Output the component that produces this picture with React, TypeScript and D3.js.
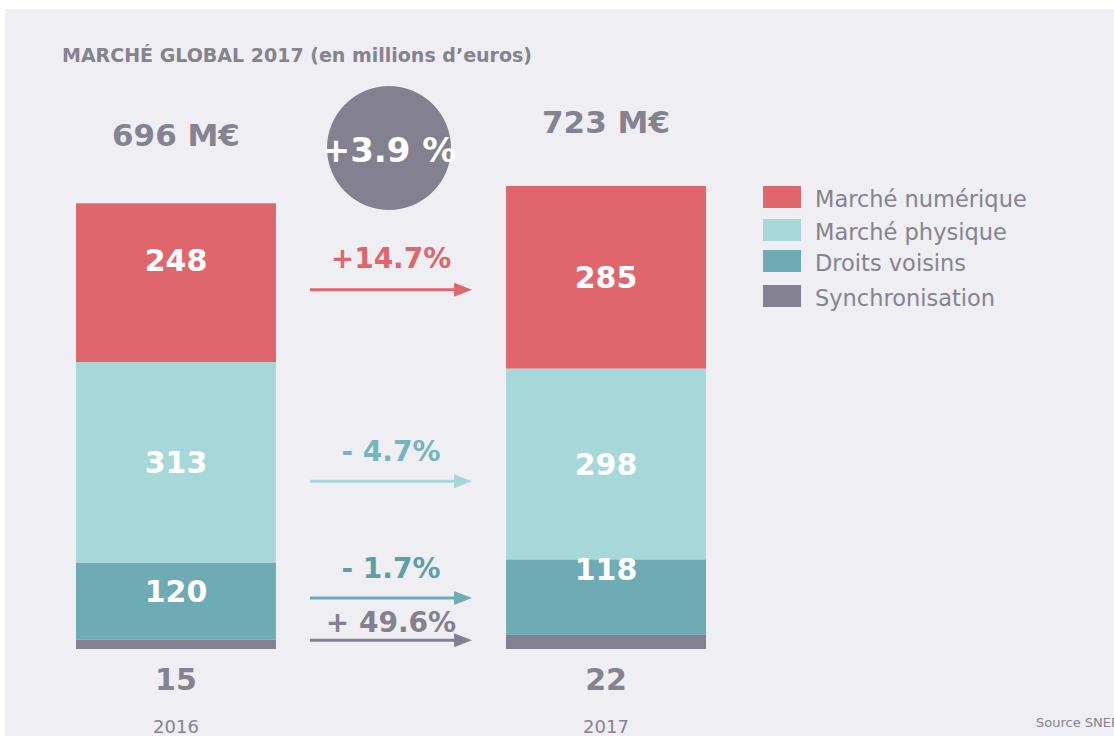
import React from "react";
import * as d3 from "d3";

const years = ["2016", "2017"];
const categories = ["Synchronisation", "Droits voisins", "Marché physique", "Marché numérique"];
const values2016 = [15, 120, 313, 248];
const values2017 = [22, 118, 298, 285];
const totals = ["696 M€", "723 M€"];
const changes = ["+ 49.6%", "- 1.7%", "- 4.7%", "+14.7%"];
const globalChange = "+3.9 %";
const legendOrder = ["Marché numérique", "Marché physique", "Droits voisins", "Synchronisation"];

const colors: Record<string, string> = {
  "Marché numérique": "#e0666d",
  "Marché physique": "#a7d8d9",
  "Droits voisins": "#6fabb5",
  Synchronisation: "#83818f",
};
const changeColors: Record<string, string> = {
  "Marché numérique": "#e0666d",
  "Marché physique": "#76b5bb",
  "Droits voisins": "#5f9ea4",
  Synchronisation: "#83818f",
};
const arrowColors: Record<string, string> = {
  "Marché numérique": "#e0666d",
  "Marché physique": "#a7d8d9",
  "Droits voisins": "#6fabb5",
  Synchronisation: "#83818f",
};

const TEXT = "#85838f";
const FONT = "'DejaVu Sans', Verdana, sans-serif";

export default function App() {
  const W = 1114, H = 736;
  const rows = years.map((y, i) => {
    const vals = i === 0 ? values2016 : values2017;
    const o: any = { year: y };
    categories.forEach((c, j) => (o[c] = vals[j]));
    return o;
  });
  const series = d3.stack().keys(categories)(rows as any);
  const x = d3.scaleBand().domain(years).range([76, 706]).paddingInner(0.535).paddingOuter(0);
  const y = d3.scaleLinear().domain([0, 723]).range([649, 186]);
  const bw = x.bandwidth();

  const midX = (x("2016")! + bw + x("2017")!) / 2;
  const arrowX0 = x("2016")! + bw + 34;
  const arrowX1 = x("2017")! - 34;

  return (
    <svg width={W} height={H} style={{ position: "absolute", left: 0, top: 0 }} fontFamily={FONT}>
      <rect x={0} y={0} width={W} height={H} fill="#ffffff" />
      <rect x={5} y={9} width={W - 5} height={H - 9} fill="#efeef3" />
      <text x={62} y={62} fontSize={19} fontWeight="bold" fill={TEXT}>
        MARCHÉ GLOBAL 2017 (en millions d’euros)
      </text>

      {series.map((s) => (
        <g key={s.key}>
          {s.map((d: any, i) => (
            <rect
              key={i}
              x={x(years[i])}
              y={y(d[1])}
              width={bw}
              height={y(d[0]) - y(d[1])}
              fill={colors[s.key]}
            />
          ))}
        </g>
      ))}

      {series.map((s, si) =>
        s.map((d: any, i) => {
          const v = d[1] - d[0];
          const cx = x(years[i])! + bw / 2;
          if (si === 0) {
            return (
              <text key={s.key + i} x={cx} y={690} textAnchor="middle" fontSize={30} fontWeight="bold" fill={TEXT}>
                {v}
              </text>
            );
          }
          const cy =
            (y(d[0]) + y(d[1])) / 2 +
            (si === 1 ? (i === 0 ? -10 : -28) : 0) +
            (si === 3 && i === 0 ? -22 : 0);
          return (
            <text key={s.key + i} x={cx} y={cy} dy="0.36em" textAnchor="middle" fontSize={30} fontWeight="bold" fill="#ffffff">
              {v}
            </text>
          );
        })
      )}

      {years.map((yr) => (
        <text key={yr} x={x(yr)! + bw / 2} y={733} textAnchor="middle" fontSize={18} fill={TEXT}>
          {yr}
        </text>
      ))}

      <text x={x("2016")! + bw / 2} y={146} textAnchor="middle" fontSize={31} fontWeight="bold" fill={TEXT}>
        {totals[0]}
      </text>
      <text x={x("2017")! + bw / 2} y={133} textAnchor="middle" fontSize={31} fontWeight="bold" fill={TEXT}>
        {totals[1]}
      </text>

      <circle cx={389} cy={148} r={62} fill="#83818f" />
      <text x={389} y={162} textAnchor="middle" fontSize={34} fontWeight="bold" fill="#ffffff">
        {globalChange}
      </text>

      {series.map((s, si) => {
        const d: any = s[0];
        const ay = (y(d[0]) + y(d[1])) / 2 + (si === 0 ? -4 : si === 1 ? -3 : si === 2 ? 19 : 7);
        const c = arrowColors[s.key];
        return (
          <g key={"arr" + s.key}>
            <line x1={arrowX0} x2={arrowX1 - 14} y1={ay} y2={ay} stroke={c} strokeWidth={3} />
            <path d={`M${arrowX1 - 18},${ay - 7} L${arrowX1},${ay} L${arrowX1 - 18},${ay + 7} Z`} fill={c} />
            <text x={midX} y={ay - (si === 0 ? 8 : si === 3 ? 22 : 20)} textAnchor="middle" fontSize={28} fontWeight="bold" fill={changeColors[s.key]}>
              {changes[si]}
            </text>
          </g>
        );
      })}

      {legendOrder.map((c, i) => {
        const ly = [186, 219, 250, 285][i];
        return (
          <g key={"lg" + c}>
            <rect x={763} y={ly} width={38} height={22} fill={colors[c]} />
            <text x={815} y={ly + 21} fontSize={22.5} fill={TEXT}>
              {c}
            </text>
          </g>
        );
      })}

      <text x={1036} y={727} fontSize={13} fill={TEXT}>
        Source SNEP
      </text>
    </svg>
  );
}
